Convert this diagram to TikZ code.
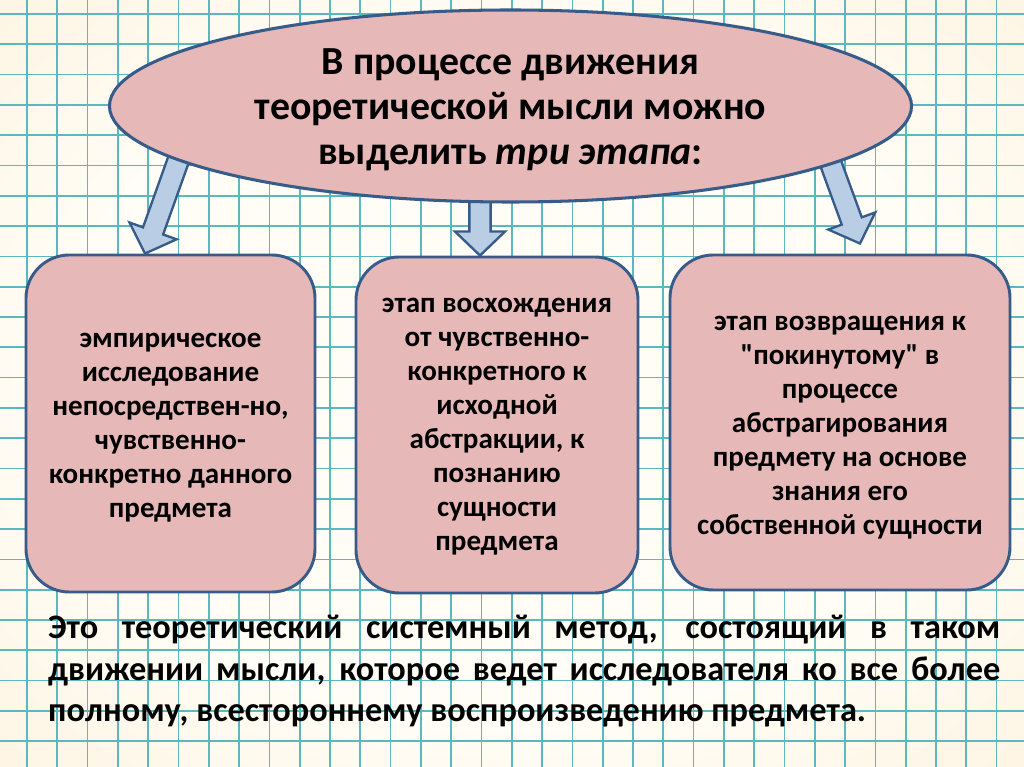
\documentclass[tikz,border=0pt]{standalone}
\usepackage{fontspec}
\setmainfont{Carlito}[Ligatures=TeXOff]
\usetikzlibrary{calc,shapes.geometric}
\definecolor{pinkfill}{RGB}{230,185,184}
\definecolor{bordblue}{RGB}{56,92,138}
\definecolor{arrfill}{RGB}{185,205,229}
\definecolor{gridcol}{RGB}{90,185,192}
\definecolor{bgcenter}{RGB}{255,253,246}
\definecolor{bgedge}{RGB}{253,236,207}
\definecolor{bgcorner}{RGB}{251,221,178}
\pgfdeclareradialshading{bgshade}{\pgfpoint{0bp}{0bp}}{color(0bp)=(bgcenter); color(22bp)=(bgcenter); color(50bp)=(bgedge); color(71bp)=(bgcorner)}
\tikzset{
  gridline/.style={draw=gridcol, line width=1.4pt},
  stagebox/.style={draw=bordblue, fill=pinkfill, line width=2.5pt, rounded corners=1.3cm, inner sep=0pt},
  boxtext/.style={inner sep=0pt, align=center, font=\fontsize{24.8}{29}\selectfont\bfseries},
  titleell/.style={ellipse, draw=bordblue, fill=pinkfill, line width=2.6pt, inner sep=0pt},
  titletext/.style={inner sep=0pt, align=center, font=\fontsize{34}{38.4}\selectfont\bfseries},
  barrow/.style={draw=bordblue, fill=arrfill, line width=2pt, line join=miter},
  bodytext/.style={inner sep=0pt, text width=28.56cm, align=justify, font=\fontsize{29.3}{35.3}\selectfont\bfseries}
}
\newcommand{\blockarrow}[2]{%
  \coordinate (#2-hb) at ($(#2)!0.72cm!(#1)$);
  \draw[barrow] ($(#1)!0.32cm!90:(#2)$) -- ($(#2-hb)!0.32cm!-90:(#1)$) -- ($(#2-hb)!0.75cm!-90:(#1)$) -- (#2) -- ($(#2-hb)!0.75cm!90:(#1)$) -- ($(#2-hb)!0.32cm!90:(#1)$) -- ($(#1)!0.32cm!-90:(#2)$) -- cycle;}
\begin{document}
\begin{tikzpicture}[x=0.03cm,y=-0.03cm]
\useasboundingbox (0,0) rectangle (1024,767);
% background
\shade[shading=bgshade] (0,0) rectangle (1024,767);
\foreach \i in {0,...,32} \draw[gridline] ({27+30.3*\i},0) -- ({27+30.3*\i},767);
\foreach \j in {0,...,24} \draw[gridline] (0,{14+30.3*\j}) -- (1024,{14+30.3*\j});
% stage boxes
\node[stagebox, minimum width=8.67cm, minimum height=10.11cm] (b1) at (170.5,423.5) {};
\node[boxtext] (b1t) at ($(b1.center)+(0,4)$)
  {эмпирическое\\исследование\\непосредствен-но,\\чувственно-\\конкретно данного\\предмета};
\node[stagebox, minimum width=8.46cm, minimum height=10.08cm] (b2) at (497,425) {};
\node[boxtext] (b2t) at ($(b2.center)+(0,2)$)
  {этап восхождения\\от чувственно-\\конкретного к\\исходной\\абстракции, к\\познанию\\сущности\\предмета};
\node[stagebox, minimum width=10.2cm, minimum height=10.05cm] (b3) at (840,422.5) {};
\node[boxtext] (b3t) at ($(b3.center)+(0,5)$)
  {этап возвращения к\\"покинутому" в\\процессе\\абстрагирования\\предмету на основе\\знания его\\собственной сущности};
% arrows
\coordinate (s1) at (188,133);
\coordinate (t1) at ($(b1.north)+(-25.5,0)$);
\coordinate (s2) at (480,140);
\coordinate (t2) at ($(b2.north)+(-17,0)$);
\coordinate (s3) at (816,123);
\coordinate (t3) at ($(b3.north)+(20,-10)$);
\blockarrow{s1}{t1}
\blockarrow{s2}{t2}
\blockarrow{s3}{t3}
% title ellipse
\node[titleell, minimum width=24.06cm, minimum height=5.76cm] (title) at (510.5,106) {};
\node[titletext] (titlet) at ($(title.center)+(0,4)$)
  {В процессе движения\\теоретической мысли можно\\выделить \textit{три этапа}:};
% bottom text
\node[bodytext, anchor=north west] (body) at (48,615)
  {Это теоретический системный метод, состоящий в таком\linebreak движении мысли, которое ведет исследователя ко все более\linebreak полному, всестороннему воспроизведению предмета.};
\end{tikzpicture}
\end{document}
